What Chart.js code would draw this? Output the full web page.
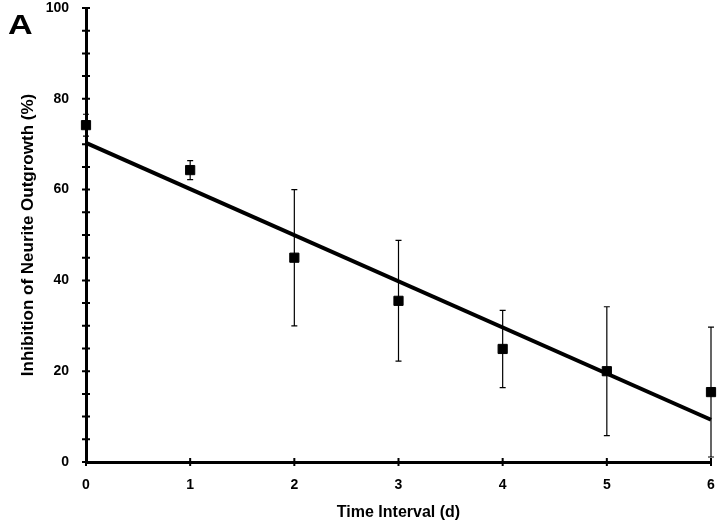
<!DOCTYPE html>
<html>
<head>
<meta charset="utf-8">
<script src="https://cdn.jsdelivr.net/npm/chart.js@4"></script>
<style>
    body { margin: 0; background: #fff; }
    #wrap { position: relative; width: 720px; height: 526px; }
    #panel {
        position: absolute; left: 8px; top: 11px;
        font: bold 28px "Liberation Sans", Arial, sans-serif;
        line-height: 28px; color: #000;
        transform: scaleX(1.22); transform-origin: left top;
    }
</style>
</head>
<body>
<div id="wrap">
    <canvas id="chart" width="720" height="526"></canvas>
    <div id="panel">A</div>
</div>
<script>
// data
const days = [0, 1, 2, 3, 4, 5, 6];
const inhibition = [74.2, 64.3, 45.0, 35.5, 24.9, 20.0, 15.4];
const errorSize = [2.4, 2.1, 15.0, 13.3, 8.5, 14.2, 14.3];
const trendDays = [0, 6];
const trendValues = [70.3, 9.3];
const yLabels = [0, 20, 40, 60, 80, 100];

const fontFamily = '"Liberation Sans", Arial, sans-serif';

// error bars drawn from the scales
const errorBars = {
    id: 'errorBars',
    beforeDatasetsDraw(chart) {
        const { ctx, scales: { x, y } } = chart;
        ctx.save();
        ctx.strokeStyle = '#000';
        ctx.lineWidth = 1.2;
        days.forEach((d, i) => {
            const px = x.getPixelForValue(d);
            const top = y.getPixelForValue(inhibition[i] + errorSize[i]);
            const bot = y.getPixelForValue(Math.max(0, inhibition[i] - errorSize[i]));
            ctx.beginPath();
            ctx.moveTo(px, top);
            ctx.lineTo(px, bot);
            ctx.moveTo(px - 3, top);
            ctx.lineTo(px + 3, top);
            ctx.moveTo(px - 3, bot);
            ctx.lineTo(px + 3, bot);
            ctx.stroke();
        });
        ctx.restore();
    }
};

// tick marks crossing the axis lines
const crossTicks = {
    id: 'crossTicks',
    afterDraw(chart) {
        const { ctx, scales: { x, y }, chartArea } = chart;
        ctx.save();
        ctx.strokeStyle = '#000';
        ctx.lineWidth = 2;
        ctx.beginPath();
        y.ticks.forEach(t => {
            const py = y.getPixelForValue(t.value);
            ctx.moveTo(chartArea.left - 4, py);
            ctx.lineTo(chartArea.left + 4, py);
        });
        x.ticks.forEach(t => {
            const px = x.getPixelForValue(t.value);
            ctx.moveTo(px, chartArea.bottom - 4);
            ctx.lineTo(px, chartArea.bottom + 4);
        });
        ctx.stroke();
        ctx.restore();
    }
};

new Chart(document.getElementById('chart'), {
    type: 'scatter',
    data: {
        datasets: [
            {
                label: 'Inhibition',
                data: days.map((d, i) => ({ x: d, y: inhibition[i] })),
                pointStyle: 'rect',
                pointRadius: 6.5,
                pointBackgroundColor: '#000',
                pointBorderColor: '#000',
                pointBorderWidth: 1,
                showLine: false,
                clip: false,
                order: 1
            },
            {
                label: 'Fit',
                type: 'line',
                data: trendDays.map((d, i) => ({ x: d, y: trendValues[i] })),
                borderColor: '#000',
                borderWidth: 4,
                pointRadius: 0,
                fill: false,
                clip: false,
                order: 2
            }
        ]
    },
    options: {
        responsive: false,
        animation: false,
        layout: { padding: { top: 8, right: 9, left: 0, bottom: 0 } },
        plugins: {
            legend: { display: false },
            tooltip: { enabled: false }
        },
        scales: {
            x: {
                type: 'linear',
                min: 0,
                max: 6,
                afterFit: s => {
                    s.height = 64;
                    s.paddingLeft = 0;
                    s.paddingRight = 0;
                },
                grid: { display: false, drawTicks: false },
                border: { display: true, color: '#000', width: 3 },
                ticks: {
                    stepSize: 1,
                    padding: 15,
                    color: '#000',
                    font: { family: fontFamily, size: 14, weight: 'bold' }
                },
                title: {
                    display: true,
                    text: 'Time Interval (d)',
                    color: '#000',
                    padding: { top: 0, bottom: 4 },
                    font: { family: fontFamily, size: 16, weight: 'bold' }
                }
            },
            y: {
                min: 0,
                max: 100,
                afterFit: s => {
                    s.width = 86;
                    s.paddingTop = 0;
                    s.paddingBottom = 0;
                },
                grid: { display: false, drawTicks: false },
                border: { display: true, color: '#000', width: 3 },
                ticks: {
                    stepSize: 5,
                    autoSkip: false,
                    padding: 17,
                    color: '#000',
                    font: { family: fontFamily, size: 14, weight: 'bold' },
                    callback: v => yLabels.includes(v) ? String(v) : ''
                },
                title: {
                    display: true,
                    text: 'Inhibition of Neurite Outgrowth (%)',
                    color: '#000',
                    padding: { top: 18, bottom: 0 },
                    font: { family: fontFamily, size: 17, weight: 'bold' }
                }
            }
        }
    },
    plugins: [errorBars, crossTicks]
});
</script>
</body>
</html>
